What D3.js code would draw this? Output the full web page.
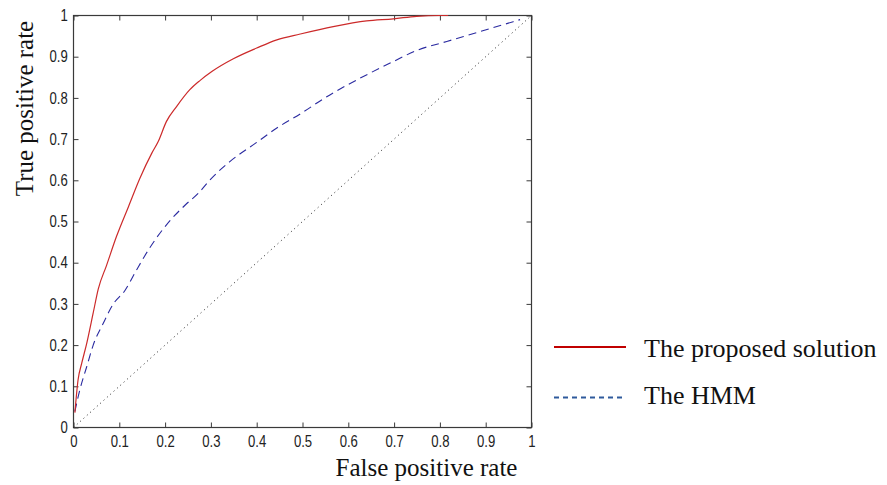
<!DOCTYPE html>
<html><head><meta charset="utf-8">
<script src="https://cdn.jsdelivr.net/npm/d3@7"></script>
<style>body{margin:0;background:#fff}svg{display:block}</style>
</head><body>
<svg id="c" width="887" height="485"></svg>
<script>
const xTicks = [0,0.1,0.2,0.3,0.4,0.5,0.6,0.7,0.8,0.9,1];
const yTicks = [0,0.1,0.2,0.3,0.4,0.5,0.6,0.7,0.8,0.9,1];
const tickLabels = ["0","0.1","0.2","0.3","0.4","0.5","0.6","0.7","0.8","0.9","1"];
const seriesNames = ["The proposed solution","The HMM"];
const proposedFPR = [0.003,0.010,0.018,0.029,0.043,0.054,0.072,0.094,0.12,0.145,0.171,0.185,0.203,0.225,0.254,0.276,0.302,0.349,0.4,0.444,0.495,0.567,0.64,0.698,0.749,0.8,0.818];
const proposedTPR = [0.036,0.116,0.156,0.205,0.278,0.336,0.393,0.464,0.536,0.605,0.666,0.694,0.743,0.779,0.82,0.842,0.864,0.895,0.921,0.941,0.955,0.973,0.987,0.992,0.998,1.0,1.0];
const hmmFPR = [0.003,0.014,0.029,0.043,0.065,0.087,0.112,0.138,0.167,0.203,0.244,0.273,0.298,0.342,0.4,0.444,0.495,0.553,0.626,0.698,0.749,0.815,0.888,0.96,0.975];
const hmmTPR = [0.039,0.092,0.148,0.2,0.253,0.3,0.332,0.383,0.437,0.492,0.54,0.569,0.601,0.646,0.692,0.727,0.761,0.803,0.848,0.888,0.915,0.937,0.961,0.985,0.99];
const chanceFPR = [0,1];
const chanceTPR = [0,1];

const svg = d3.select("#c");
const L=73.5, R=531.5, T=15.5, B=427.5;
const x = d3.scaleLinear().domain([0,1]).range([L,R]);
const y = d3.scaleLinear().domain([0,1]).range([B,T]);
const tickFont = "Liberation Sans, Arial, sans-serif";
const serif = "Liberation Serif, Times New Roman, serif";
const axisCol = "#3a3a3a";

svg.append("rect").attr("x",L).attr("y",T).attr("width",R-L).attr("height",B-T)
  .attr("fill","none").attr("stroke",axisCol).attr("stroke-width",1.2);

const styleAxis = g => {
  g.select(".domain").remove();
  g.selectAll(".tick line").attr("stroke",axisCol);
  g.selectAll(".tick text").attr("fill","#222").style("font-family",tickFont).style("font-size","16px");
};
svg.append("g").attr("transform",`translate(0,${B})`)
  .call(d3.axisBottom(x).tickValues(xTicks).tickFormat((d,i)=>tickLabels[i]).tickSizeInner(-5).tickSizeOuter(0).tickPadding(8))
  .call(styleAxis)
  .call(g=>g.selectAll(".tick text").attr("transform","scale(0.82,1)"));
svg.append("g").attr("transform",`translate(0,${T})`)
  .call(d3.axisTop(x).tickValues(xTicks).tickFormat("").tickSizeInner(-5).tickSizeOuter(0))
  .call(styleAxis);
svg.append("g").attr("transform",`translate(${L},0)`)
  .call(d3.axisLeft(y).tickValues(yTicks).tickFormat((d,i)=>tickLabels[i]).tickSizeInner(-5).tickSizeOuter(0).tickPadding(7))
  .call(styleAxis)
  .call(g=>g.selectAll(".tick text").attr("transform","scale(0.82,1)"));
svg.append("g").attr("transform",`translate(${R},0)`)
  .call(d3.axisRight(y).tickValues(yTicks).tickFormat("").tickSizeInner(-5).tickSizeOuter(0))
  .call(styleAxis);

const line = d3.line().x(d=>x(d[0])).y(d=>y(d[1])).curve(d3.curveMonotoneX);
const zip = (a,b)=>a.map((v,i)=>[v,b[i]]);

svg.append("path").datum(zip(chanceFPR,chanceTPR)).attr("d",d3.line().x(d=>x(d[0])).y(d=>y(d[1])))
  .attr("fill","none").attr("stroke","#222").attr("stroke-width",1).attr("stroke-dasharray","1,3.5");
svg.append("path").datum(zip(hmmFPR,hmmTPR)).attr("d",line)
  .attr("fill","none").attr("stroke","#2a2aa0").attr("stroke-width",1.1).attr("stroke-dasharray","8,5");
svg.append("path").datum(zip(proposedFPR,proposedTPR)).attr("d",line)
  .attr("fill","none").attr("stroke","#cc2a2a").attr("stroke-width",1.2);

svg.append("text").attr("x",426.5).attr("y",476).attr("text-anchor","middle")
  .style("font-family",serif).style("font-size","25px").attr("fill","#111").text("False positive rate");
svg.append("text").attr("transform","translate(33,108.5) rotate(-90)").attr("text-anchor","middle")
  .style("font-family",serif).style("font-size","25px").attr("fill","#111").text("True positive rate");

const leg = [{name:seriesNames[0],col:"#c00000",dash:null,y:347,ty:356.5},{name:seriesNames[1],col:"#2e5a9c",dash:"5,4",y:397.5,ty:403.5}];
leg.forEach(d=>{
  svg.append("line").attr("x1",554).attr("x2",626).attr("y1",d.y).attr("y2",d.y)
    .attr("stroke",d.col).attr("stroke-width",1.8).attr("stroke-dasharray",d.dash);
  svg.append("text").attr("x",644).attr("y",d.ty).style("font-family",serif).style("font-size","26px")
    .attr("fill","#111").text(d.name);
});
</script>
</body></html>
